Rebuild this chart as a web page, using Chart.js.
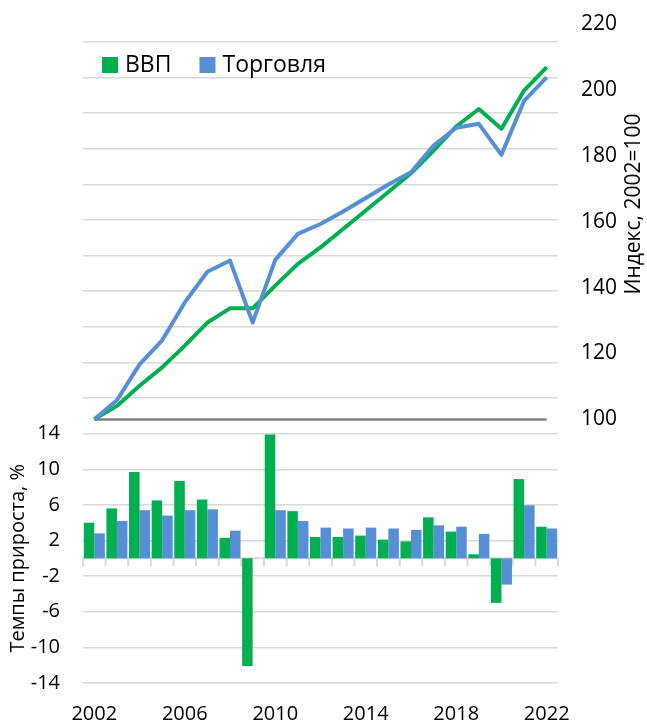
<!DOCTYPE html>
<html>
<head>
<meta charset="utf-8">
<script src="https://cdn.jsdelivr.net/npm/chart.js@4/dist/chart.umd.min.js"></script>
<style>
  html, body { margin: 0; padding: 0; background: #fff; }
  #wrap { width: 647px; height: 724px; }
</style>
</head>
<body>
<div id="wrap"><canvas id="chart" width="647" height="724"></canvas></div>
<script>
// years on the category axis
const years = ['2002', '2003', '2004', '2005', '2006', '2007', '2008', '2009', '2010', '2011', '2012',
  '2013', '2014', '2015', '2016', '2017', '2018', '2019', '2020', '2021', '2022'];

// growth rates, % (bars, left axis)
const gdpGrowth = [4.0, 5.6, 9.7, 6.5, 8.7, 6.6, 2.3, -12.1, 13.9, 5.3, 2.4,
  2.4, 2.55, 2.1, 1.9, 4.6, 3.0, 0.45, -5.0, 8.9, 3.55];
const tradeGrowth = [2.8, 4.2, 5.4, 4.8, 5.4, 5.5, 3.1, null, 5.4, 4.2, 3.45,
  3.35, 3.45, 3.35, 3.2, 3.7, 3.55, 2.75, -2.95, 5.95, 3.35];

// index, 2002=100 (lines, right axis)
const gdpIndex = [100, 104.1, 110.2, 115.8, 122.4, 129.4, 133.7, 133.7, 140.6, 147.2, 152.2,
  157.8, 163.4, 169.0, 174.7, 181.6, 188.9, 194.2, 188.2, 199.8, 206.9];
const tradeIndex = [100, 105.8, 116.7, 124.0, 135.5, 144.8, 148.2, 129.4, 148.4, 156.3, 159.3,
  163.1, 167.2, 171.3, 175.0, 183.1, 188.5, 189.7, 180.3, 196.7, 203.8];

// axis ticks: gridlines run over the whole height, labels only on each panel's part
const pctGrid = [-14, -10, -6, -2, 2, 6, 10, 14, 18, 22, 26, 30, 34, 38, 42, 46, 50, 54, 58];
const pctLabelMax = 14;
const idxLabelMin = 100;
const baseValue = 100;

const GREEN = '#00B050';
const BLUE = '#568FD6';
const FONT = '"Open Sans", sans-serif';

// light zero line of the bar panel, with tick marks between years
const zeroAxis = {
  id: 'zeroAxis',
  beforeDatasetsDraw(chart) {
    const { ctx, chartArea, scales } = chart;
    const y0 = scales.yPct.getPixelForValue(0);
    const step = (chartArea.right - chartArea.left) / years.length;
    ctx.save();
    ctx.strokeStyle = '#D9D9D9';
    ctx.lineWidth = 2;
    ctx.beginPath();
    ctx.moveTo(chartArea.left, y0);
    ctx.lineTo(chartArea.right, y0);
    for (let i = 0; i <= years.length; i++) {
      const x = chartArea.left + i * step;
      ctx.moveTo(x, y0);
      ctx.lineTo(x, y0 + 8);
    }
    ctx.stroke();
    // grey base line of the index panel
    const yb = scales.yIdx.getPixelForValue(baseValue);
    ctx.strokeStyle = '#808080';
    ctx.lineWidth = 2.5;
    ctx.beginPath();
    ctx.moveTo(scales.x.getPixelForValue(0), yb);
    ctx.lineTo(scales.x.getPixelForValue(years.length - 1), yb);
    ctx.stroke();
    ctx.restore();
  }
};

// legend inside the plot and the two rotated axis titles
const extras = {
  id: 'extras',
  afterDraw(chart) {
    const { ctx, scales } = chart;
    ctx.save();
    ctx.textBaseline = 'middle';

    ctx.font = '23px ' + FONT;
    let x = 102;
    chart.data.datasets.filter(d => d.type === 'bar').forEach(d => {
      ctx.fillStyle = d.backgroundColor;
      ctx.fillRect(x, 57, 16, 16);
      ctx.fillStyle = '#000';
      ctx.textAlign = 'left';
      ctx.fillText(d.label, x + 23, 65);
      x += 23 + ctx.measureText(d.label).width + 28;
    });

    ctx.fillStyle = '#000';
    ctx.textAlign = 'center';
    ctx.font = '20px ' + FONT;
    const yl = (scales.yPct.getPixelForValue(-14) + scales.yPct.getPixelForValue(pctLabelMax)) / 2;
    ctx.translate(18, yl);
    ctx.rotate(-Math.PI / 2);
    ctx.fillText('Темпы прироста, %', 0, 0);
    ctx.setTransform(1, 0, 0, 1, 0, 0);
    ctx.font = '21px ' + FONT;
    ctx.translate(634, 204);
    ctx.rotate(-Math.PI / 2);
    ctx.fillText('Индекс, 2002=100', 0, 0);
    ctx.restore();
  }
};

// keep the label padding of the y axes from pushing the plot area down
const noPad = s => { s.paddingTop = 0; s.paddingBottom = 0; };

new Chart(document.getElementById('chart'), {
  data: {
    labels: years,
    datasets: [
      { type: 'line', label: 'Торговля', data: tradeIndex, yAxisID: 'yIdx', order: 0,
        borderColor: BLUE, borderWidth: 4, pointRadius: 0, tension: 0, borderJoinStyle: 'round' },
      { type: 'line', label: 'ВВП', data: gdpIndex, yAxisID: 'yIdx', order: 1,
        borderColor: GREEN, borderWidth: 4, pointRadius: 0, tension: 0, borderJoinStyle: 'round' },
      { type: 'bar', label: 'ВВП', data: gdpGrowth, yAxisID: 'yPct', order: 2,
        backgroundColor: GREEN, barPercentage: 1, categoryPercentage: 0.93 },
      { type: 'bar', label: 'Торговля', data: tradeGrowth, yAxisID: 'yPct', order: 3,
        backgroundColor: BLUE, barPercentage: 1, categoryPercentage: 0.93 }
    ]
  },
  options: {
    responsive: false,
    animation: false,
    layout: { padding: { top: 24, left: 0, right: 0, bottom: 0 } },
    plugins: {
      legend: { display: false },
      tooltip: { enabled: false }
    },
    scales: {
      x: {
        offset: true,
        grid: { display: false, drawTicks: false },
        border: { display: false },
        ticks: {
          autoSkip: false, maxRotation: 0, padding: 19, color: '#000',
          font: { family: FONT, size: 20 },
          callback: (v, i) => (i % 4 === 0 ? years[i] : '')
        },
        afterFit: s => { s.height = 41; }
      },
      yPct: {
        position: 'left',
        min: -14, max: 60,
        afterBuildTicks: s => { s.ticks = pctGrid.map(v => ({ value: v })); },
        grid: { color: '#D9D9D9', lineWidth: 1.5, drawTicks: false },
        border: { display: false },
        ticks: {
          padding: 23, color: '#000',
          font: { family: FONT, size: 20 },
          callback: v => (v <= pctLabelMax ? v : '')
        },
        afterFit: s => { s.width = 83; noPad(s); }
      },
      yIdx: {
        position: 'right',
        min: 20, max: 220,
        grid: { display: false, drawTicks: false },
        border: { display: false },
        ticks: {
          stepSize: 20, padding: 23, color: '#000',
          font: { family: FONT, size: 21 },
          callback: v => (v >= idxLabelMin ? v : '')
        },
        afterFit: s => { s.width = 89; noPad(s); }
      }
    }
  },
  plugins: [zeroAxis, extras]
});
</script>
</body>
</html>
